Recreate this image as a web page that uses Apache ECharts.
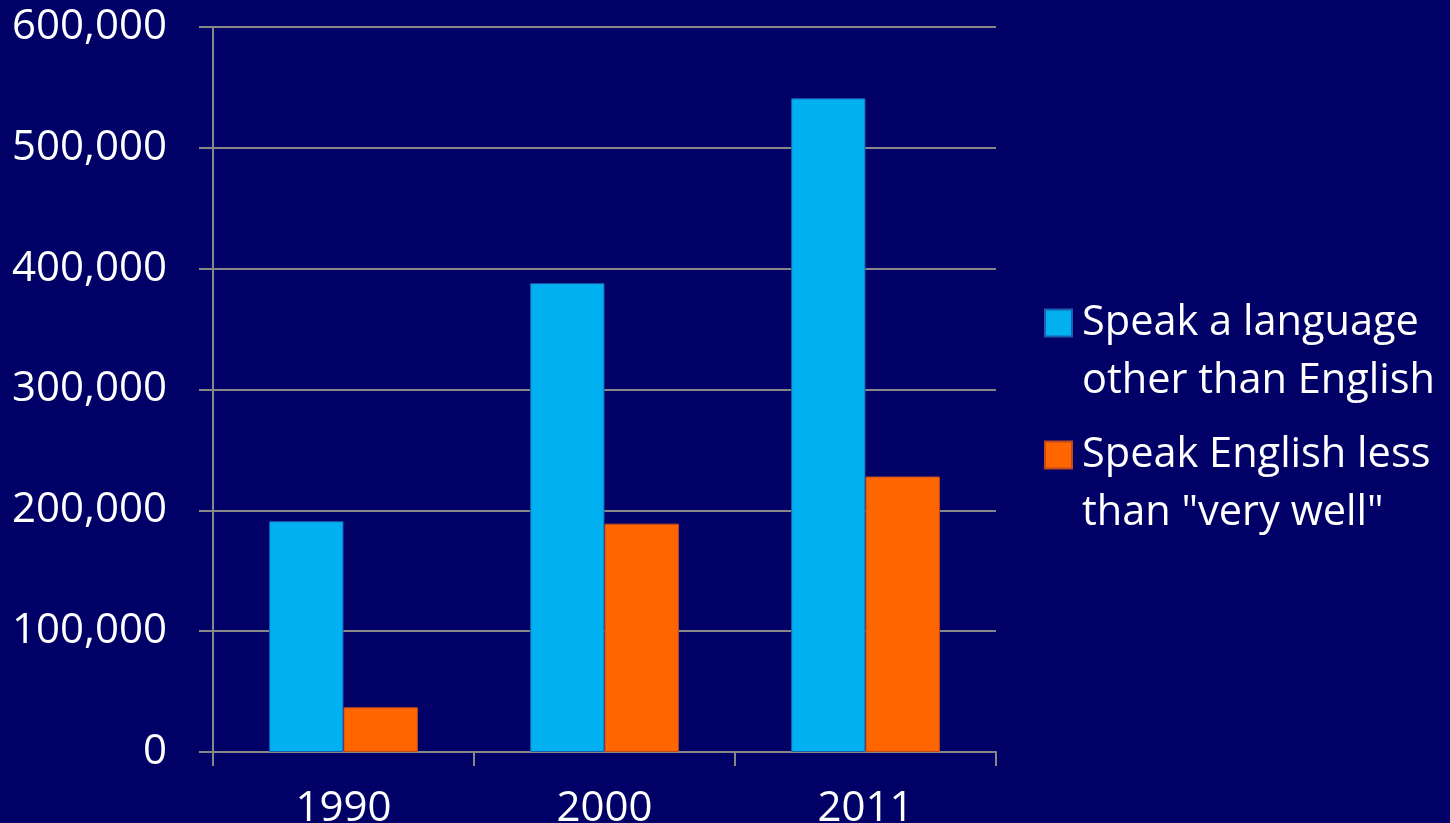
<!DOCTYPE html>
<html>
<head>
<meta charset="utf-8">
<script src="https://cdn.jsdelivr.net/npm/echarts@6/dist/echarts.min.js"></script>
<style>
html,body{margin:0;padding:0;background:#000066;}
#c{width:1450px;height:823px;}
</style>
</head>
<body>
<div id="c"></div>
<script>
const categories = ['1990', '2000', '2011'];
const seriesNames = ['Speak a language other than English', 'Speak English less than "very well"'];
const legendLabels = ['Speak a language\nother than English', 'Speak English less\nthan "very well"'];
const otherLanguage = [191000, 388000, 541000];
const lessThanVeryWell = [37000, 189000, 228000];
const yTicks = [0, 100000, 200000, 300000, 400000, 500000, 600000];

const FONT = '"Open Sans", sans-serif';
const axisGray = '#878787';
const chart = echarts.init(document.getElementById('c'));

function legendFor(i, top) {
  return {
    data: [seriesNames[i]],
    orient: 'vertical',
    left: 1039,
    top: top,
    itemWidth: 27,
    itemHeight: 27,
    icon: 'rect',
    formatter: () => '\n' + legendLabels[i],
    textStyle: {
      color: '#ffffff',
      fontFamily: FONT,
      fontSize: 41.5,
      lineHeight: 58,
      padding: [0, 0, 0, 5]
    }
  };
}

chart.setOption({
  backgroundColor: '#000066',
  animation: false,
  legend: [legendFor(0, 231), legendFor(1, 363)],
  grid: { left: 213, right: 454, top: 27, bottom: 71, containLabel: false, outerBoundsMode: 'none' },
  xAxis: {
    type: 'category',
    data: categories,
    axisLine: { lineStyle: { color: axisGray, width: 2 } },
    axisTick: { show: true, length: 14, lineStyle: { color: axisGray, width: 2 } },
    axisLabel: { color: '#ffffff', fontFamily: FONT, fontSize: 42, margin: 36 }
  },
  yAxis: {
    type: 'value',
    min: 0,
    max: 600000,
    interval: 100000,
    axisLine: { show: true, lineStyle: { color: axisGray, width: 2 } },
    axisTick: { show: true, length: 14, lineStyle: { color: axisGray, width: 2 } },
    splitLine: { lineStyle: { color: axisGray, width: 2 } },
    axisLabel: {
      color: '#ffffff', fontFamily: FONT, fontSize: 42, margin: 46,
      formatter: v => yTicks.includes(v) ? v.toLocaleString('en-US') : ''
    }
  },
  series: [
    {
      name: seriesNames[0], type: 'bar', data: otherLanguage,
      barGap: '0%', barCategoryGap: '43%',
      itemStyle: { color: '#00B0F0', borderColor: '#1b5fb0', borderWidth: 1 }
    },
    {
      name: seriesNames[1], type: 'bar', data: lessThanVeryWell,
      barGap: '0%', barCategoryGap: '43%',
      itemStyle: { color: '#FF6600', borderColor: '#c04a20', borderWidth: 1 }
    }
  ]
});
</script>
</body>
</html>
